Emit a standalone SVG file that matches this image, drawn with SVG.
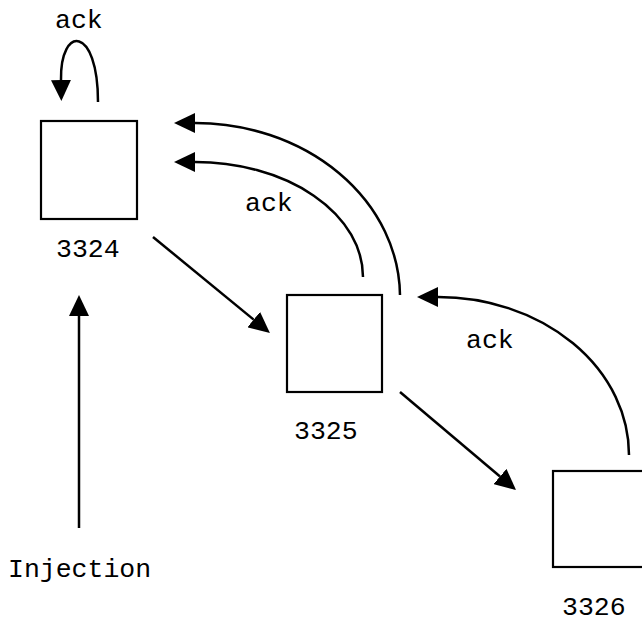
<svg xmlns="http://www.w3.org/2000/svg" width="642" height="623" viewBox="0 0 642 623">
<defs>
<marker id="ah" viewBox="0 0 21 20" refX="0" refY="10" markerWidth="21" markerHeight="20" markerUnits="userSpaceOnUse" orient="auto">
<path d="M0,0 L21,10 L0,20 z" fill="#000"/>
</marker>
</defs>
<style>
.box{fill:#fff;stroke:#000;stroke-width:2.2}
.lbl{font-family:"Liberation Mono","Courier New",monospace;font-size:26.5px;fill:#000}
.con{fill:none;stroke:#000;stroke-width:2.5;marker-end:url(#ah)}
</style>
<rect width="642" height="623" fill="#fff"/>
<g id="node-3324">
<rect class="box" x="41" y="121" width="96" height="98"/>
<text class="lbl" x="56" y="257">3324</text>
</g>
<g id="node-3325">
<rect class="box" x="287" y="295" width="95" height="97"/>
<text class="lbl" x="294" y="439">3325</text>
</g>
<g id="node-3326">
<rect class="box" x="553" y="471" width="100" height="96"/>
<text class="lbl" x="562" y="615">3326</text>
</g>
<g id="injection">
<text class="lbl" x="8" y="577">Injection</text>
</g>
<g id="connectors">
<path class="con" d="M98,102 C98,25 60,25 61,80"/>
<text class="lbl" x="55" y="28">ack</text>
<path class="con" d="M400,295 A205,174 0 0 0 195,123"/>
<path class="con" d="M363,277 A168,115 0 0 0 195,162"/>
<text class="lbl" x="245" y="211">ack</text>
<path class="con" d="M629,455 A191,158 0 0 0 438,297"/>
<text class="lbl" x="466" y="348">ack</text>
<path class="con" d="M153,237 L253.7,319.6"/>
<path class="con" d="M400,392 L500,476.5"/>
<path class="con" d="M79,528 L79,316"/>
</g>
</svg>
